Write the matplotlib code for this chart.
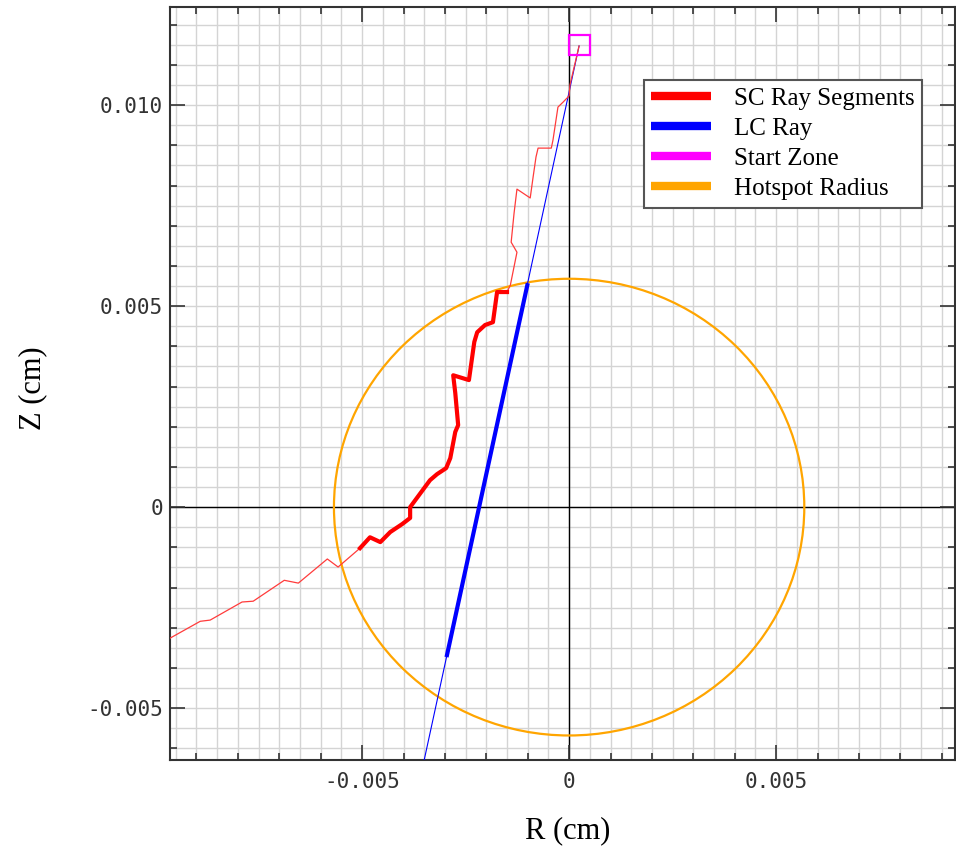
"""SC vs LC ray path through the hotspot, R-Z plane."""
import numpy as np
import matplotlib
matplotlib.use("Agg")
import matplotlib.pyplot as plt
from matplotlib.lines import Line2D
from matplotlib.patches import Circle, Rectangle
from matplotlib.ticker import MultipleLocator, FuncFormatter

# SC ray, thin part above the hotspot (cm)
SC_TOP_R = [0.00024, 0.00002, 0.00000, -0.00014, -0.00027, -0.00039, -0.00043,
            -0.00075, -0.00080, -0.00087, -0.00094, -0.00126, -0.00133,
            -0.00140, -0.00126, -0.00142, -0.00150]
SC_TOP_Z = [0.01147, 0.01050, 0.01023, 0.01008, 0.00995, 0.00913, 0.00893,
            0.00893, 0.00871, 0.00821, 0.00769, 0.00791, 0.00731,
            0.00659, 0.00634, 0.00552, 0.00535]

# SC ray, thick part inside the hotspot
SC_IN_R = [-0.00150, -0.00174, -0.00184, -0.00203, -0.00222, -0.00229,
           -0.00242, -0.00280, -0.00275, -0.00268, -0.00275, -0.00287,
           -0.00297, -0.00319, -0.00336, -0.00384, -0.00384, -0.00403,
           -0.00432, -0.00456, -0.00481, -0.00505]
SC_IN_Z = [0.00535, 0.00535, 0.00460, 0.00453, 0.00435, 0.00411,
           0.00316, 0.00328, 0.00284, 0.00204, 0.00187, 0.00122,
           0.00097, 0.00082, 0.00067, 0.00000, -0.00027, -0.00042,
           -0.00062, -0.00087, -0.00075, -0.00102]

# SC ray, thin part leaving the hotspot
SC_OUT_R = [-0.00505, -0.00558, -0.00584, -0.00654, -0.00688, -0.00763,
            -0.00790, -0.00867, -0.00891, -0.00964, -0.01012]
SC_OUT_Z = [-0.00102, -0.00149, -0.00129, -0.00189, -0.00182, -0.00234,
            -0.00236, -0.00281, -0.00284, -0.00326, -0.00356]

# LC ray: full straight line and the part inside the hotspot
LC_R = [0.00024, -0.00365]
LC_Z = [0.01147, -0.00700]
LC_IN_R = [-0.00101, -0.00295]
LC_IN_Z = [0.00552, -0.00368]

HOTSPOT_RADIUS = 0.00568
START_R = (0.0, 0.0005)
START_Z = (0.01125, 0.01175)

XLIM = (-0.00964, 0.00932)
YLIM = (-0.00629, 0.01244)

plt.rcParams.update({
    "font.family": ["Liberation Serif", "DejaVu Serif"],
})

fig = plt.figure(figsize=(9.56, 8.48), dpi=100)
ax = fig.add_axes([170 / 956, 1 - 760 / 848, 785 / 956, 753 / 848])

# fine grid every 0.0005 cm
for gx in np.arange(-0.0095, 0.0095 + 1e-9, 0.0005):
    ax.axvline(gx, color="#d4d4d4", lw=1.0, zorder=0)
for gy in np.arange(-0.006, 0.0125 + 1e-9, 0.0005):
    ax.axhline(gy, color="#d4d4d4", lw=1.0, zorder=0)
ax.axvline(0, color="black", lw=1.0, zorder=1)
ax.axhline(0, color="black", lw=1.0, zorder=1)

ax.add_patch(Circle((0, 0), HOTSPOT_RADIUS, fill=False, ec="orange",
                    lw=1.6, zorder=2))

ax.plot(LC_R, LC_Z, color="blue", lw=0.8, zorder=3)
ax.plot(LC_IN_R, LC_IN_Z, color="blue", lw=3.0, zorder=4)

ax.plot(SC_TOP_R, SC_TOP_Z, color="#ff3b3b", lw=0.9, zorder=3)
ax.plot(SC_OUT_R, SC_OUT_Z, color="#ff3b3b", lw=0.9, zorder=3)
ax.plot(SC_IN_R, SC_IN_Z, color="red", lw=3.0, zorder=4)

ax.add_patch(Rectangle((START_R[0], START_Z[0]), START_R[1] - START_R[0],
                       START_Z[1] - START_Z[0], fill=False, ec="magenta",
                       lw=1.6, zorder=5))

ax.set_xlim(*XLIM)
ax.set_ylim(*YLIM)

fmt = FuncFormatter(lambda v, _: "0" if abs(v) < 1e-12 else f"{v:.3f}")
for axis in (ax.xaxis, ax.yaxis):
    axis.set_major_locator(MultipleLocator(0.005))
    axis.set_minor_locator(MultipleLocator(0.001))
    axis.set_major_formatter(fmt)
ax.tick_params(which="both", direction="in", top=True, right=True,
               color="#333333", width=1.2)
ax.tick_params(which="major", length=11)
ax.tick_params(which="minor", length=5)
ax.tick_params(axis="x", pad=9)
ax.tick_params(axis="y", pad=5)
for lab in ax.get_xticklabels() + ax.get_yticklabels():
    lab.set_fontfamily("DejaVu Sans Mono")
    lab.set_fontsize(15)
    lab.set_color("#333333")
for sp in ax.spines.values():
    sp.set_color("#333333")
    sp.set_linewidth(1.5)

ax.set_xlabel("R (cm)", fontsize=22)
ax.xaxis.set_label_coords(0.506, -0.075)
fig.text(33 / 956, 1 - 388 / 848, "Z (cm)", fontsize=22, rotation=90,
         ha="center", va="center")

handles = [Line2D([], [], color=c, lw=6, solid_capstyle="butt") for c in
           ("red", "blue", "magenta", "orange")]
labels = ["SC Ray Segments", "LC Ray", "Start Zone", "Hotspot Radius"]
leg = ax.legend(handles, labels, loc="upper right",
                bbox_to_anchor=(0.958, 0.903), borderaxespad=0,
                fontsize=18, fancybox=False, framealpha=1,
                edgecolor="#555555", handlelength=2.4, labelspacing=0.3,
                handletextpad=0.9, borderpad=0.3)
leg.get_frame().set_linewidth(1.5)
leg.set_zorder(10)

fig.savefig("out.png", dpi=100)
